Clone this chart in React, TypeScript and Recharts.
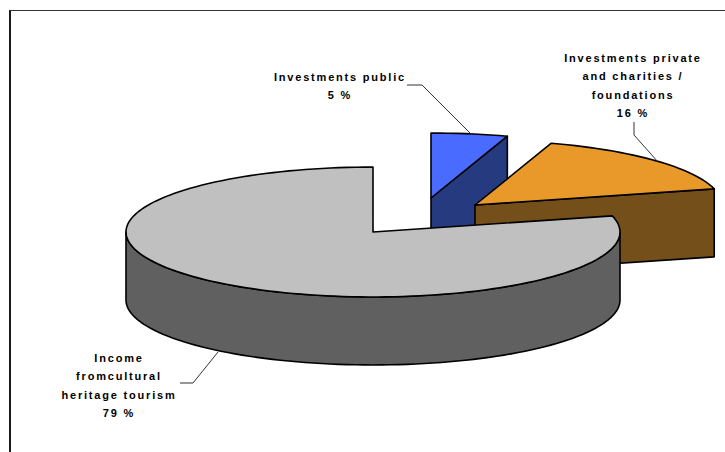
import { PieChart, Pie, Cell } from "recharts";

// ----- Data -----
const categories = [
  "Investments public",
  "Investments private and charities / foundations",
  "Income fromcultural heritage tourism",
];
const shares = [5, 16, 79];

const data = categories.map((name, i) => ({ name, value: shares[i] }));

// ----- Look (3D pie faked on an ellipse) -----
const TILT = 0.263; // ry / rx
const DEPTH = 68;
const topColors = ["#4a6bff", "#e8992a", "#c0c0c0"];
const sideColors = ["#263a80", "#744f19", "#606060"];
// explode offset of each slice, px
const explode = [
  { dx: 58, dy: -34 },
  { dx: 102, dy: -27 },
  { dx: 0, dy: 0 },
];
// label block centre, first baseline, wrap width and leader line
const labelLayout = [
  { x: 340, y: 81, wrap: 19, leader: [[407, 85], [422, 85], [472, 135]] },
  { x: 633, y: 62, wrap: 19, leader: [[634, 122], [634, 135], [658, 162]] },
  { x: 119, y: 362, wrap: 16, leader: [[180, 383], [193, 383], [218, 352]] },
];

const rad = (a: number) => (a * Math.PI) / 180;

function arc(cx: number, cy: number, rx: number, ry: number, a0: number, a1: number, dz = 0) {
  const n = Math.max(2, Math.ceil(Math.abs(a1 - a0) / 2));
  const pts: string[] = [];
  for (let i = 0; i <= n; i++) {
    const a = a0 + ((a1 - a0) * i) / n;
    pts.push(`${(cx + rx * Math.cos(rad(a))).toFixed(2)},${(cy - ry * Math.sin(rad(a)) + dz).toFixed(2)}`);
  }
  return pts;
}

function wrap(text: string, width: number) {
  const lines: string[] = [];
  let cur = "";
  for (const w of text.split(" ")) {
    const next = cur ? cur + " " + w : w;
    if (next.length > width && cur) {
      lines.push(cur);
      cur = w;
    } else cur = next;
  }
  if (cur) lines.push(cur);
  return lines;
}

// draws one slice as a 3D block, plus its label
function renderSlice(props: any) {
  const { cx: pcx, cy: pcy, outerRadius, startAngle, endAngle, index, value, name } = props;
  const lo = Math.min(startAngle, endAngle);
  const hi = Math.max(startAngle, endAngle);
  const cx = pcx + explode[index].dx;
  const cy = pcy + explode[index].dy;
  const rx = outerRadius;
  const ry = outerRadius * TILT;
  const stroke = { stroke: "#000", strokeWidth: 1.6, strokeLinejoin: "round" as const };

  const walls: string[] = [];
  for (let k = -2; k <= 2; k++) {
    const a = Math.max(lo, 180 + 360 * k);
    const b = Math.min(hi, 360 + 360 * k);
    if (b > a) {
      walls.push(`M${arc(cx, cy, rx, ry, a, b).join(" L")} L${arc(cx, cy, rx, ry, b, a, DEPTH).join(" L")} Z`);
    }
  }
  const radial = (a: number) => {
    const [p] = arc(cx, cy, rx, ry, a, a);
    const [px, py] = p.split(",").map(Number);
    return `M${cx},${cy} L${px},${py} L${px},${py + DEPTH} L${cx},${cy + DEPTH} Z`;
  };
  if (Math.cos(rad(lo)) > 1e-6) walls.push(radial(lo));
  if (Math.cos(rad(hi)) < -1e-6) walls.push(radial(hi));

  const top = `M${cx},${cy} L${arc(cx, cy, rx, ry, lo, hi).join(" L")} Z`;
  const lay = labelLayout[index];
  const lines = [...wrap(name, lay.wrap), `${value} %`];

  return (
    <g key={`slice-${index}`}>
      {walls.map((d, i) => (
        <path key={i} d={d} fill={sideColors[index]} {...stroke} />
      ))}
      <path d={top} fill={topColors[index]} {...stroke} />
      <polyline
        points={lay.leader.map((p) => p.join(",")).join(" ")}
        fill="none"
        stroke="#333"
        strokeWidth={1}
      />
      <text
        x={lay.x}
        y={lay.y}
        textAnchor="middle"
        fontFamily="'Liberation Sans', Arial, sans-serif"
        fontWeight="bold"
        fontSize={11}
        letterSpacing={1.8}
        fill="#000"
      >
        {lines.map((l, i) => (
          <tspan key={i} x={lay.x} dy={i === 0 ? 0 : 18.3}>
            {l}
          </tspan>
        ))}
      </text>
    </g>
  );
}

export default function App() {
  return (
    <div
      style={{
        position: "absolute",
        left: 0,
        top: 0,
        width: 725,
        height: 452,
        overflow: "hidden",
        background: "#fff",
      }}
    >
      {/* chart area frame, runs off the right and bottom edge */}
      <div
        style={{
          position: "absolute",
          left: 9,
          top: 10,
          width: 760,
          height: 480,
          borderLeft: "2px solid #1a1a1a",
          borderTop: "1px solid #333",
        }}
      />
      <div style={{ position: "absolute", left: 0, top: 0 }}>
        <PieChart width={725} height={452} margin={{ top: 0, right: 0, bottom: 0, left: 0 }}>
          <Pie
            data={data}
            dataKey="value"
            nameKey="name"
            cx={373}
            cy={232}
            outerRadius={247}
            startAngle={90}
            endAngle={-270}
            stroke="none"
            label={renderSlice}
            labelLine={false}
            isAnimationActive={false}
          >
            {data.map((d) => (
              <Cell key={d.name} fill="transparent" stroke="none" />
            ))}
          </Pie>
        </PieChart>
      </div>
    </div>
  );
}
